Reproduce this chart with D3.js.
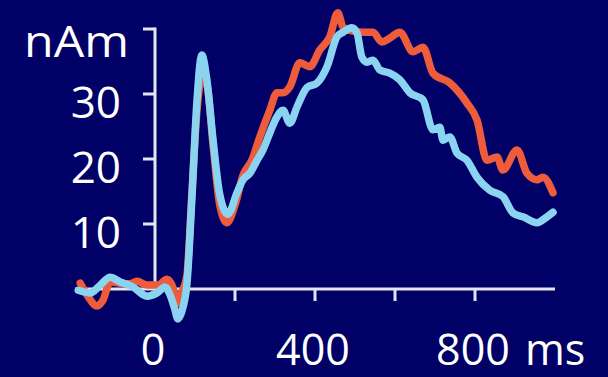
<!DOCTYPE html>
<html>
<head>
<meta charset="utf-8">
<script src="https://cdn.jsdelivr.net/npm/d3@7"></script>
<style>
  html, body { margin: 0; padding: 0; background: #000066; }
  svg { display: block; }
</style>
</head>
<body>
<div id="chart"></div>
<script>
// time in ms, amplitude in nAm
const blueTime = [-192, -162, -137, -112, -87, -55, -20, 5, 25, 37, 50, 57, 70, 80, 92, 105, 117, 130, 145, 162, 182,
  205, 220, 237, 255, 270, 287, 305, 320, 337, 355, 380, 405, 430, 455, 470, 492, 505, 517, 530, 545, 562, 587,
  612, 637, 670, 695, 712, 720, 737, 755, 780, 805, 837, 870, 895, 920, 955, 980, 995];
const blueValue = [-0.2, -0.6, 0.6, 1.8, 1.1, 0.3, -1.1, -0.6, 0.3, -0.8, -3.2, -4.6, -2.8, 0.9, 13.7, 29, 36, 32, 23, 14.5, 11.5,
  14.8, 16.8, 17.8, 19.8, 21.4, 24, 26.5, 27.5, 25.5, 28, 31, 31.7, 34.2, 38.8, 39.5, 40.2, 39.4, 35.7, 34.9, 35.2, 33.7, 33.2,
  32.2, 30.2, 29.1, 24.5, 24.9, 22.9, 23.4, 20.9, 19.8, 17.2, 15.2, 14.2, 11.7, 11.1, 10.2, 11.1, 11.8];

const redTime = [-187, -170, -145, -130, -112, -87, -62, -45, -20, 7, 30, 45, 55, 67, 80, 92, 105, 117, 130, 145, 162, 180,
  200, 220, 242, 262, 287, 305, 320, 337, 362, 387, 412, 437, 457, 470, 487, 520, 545, 567, 587,
  612, 645, 670, 695, 737, 780, 805, 830, 855, 870, 905, 930, 955, 970, 995];
const redValue = [0.9, -0.9, -2.6, -1.7, 1.1, 0.9, 0.8, 1.2, 0.6, 0.6, 1.5, 0.2, -2.2, -0.5, 2.2, 14.5, 27.5, 32.5, 31.4, 22.2, 12.9, 10.2,
  12.9, 17.5, 19.8, 23.4, 27.5, 30.2, 30.2, 31.1, 34.8, 34.2, 36.8, 38.8, 42.5, 40.3, 39.8, 39.5, 39.5, 38, 38.6,
  39.5, 36.5, 37.2, 33.2, 31.7, 28.6, 26, 19.8, 20.3, 18.3, 21.4, 17.8, 16.8, 17.2, 14.8];

const yTicks = [10, 20, 30, 40];
const yLabels = ["10", "20", "30", "nAm"];
const xTicks = [200, 400, 600, 800];
const xLabelValues = [0, 400, 800];
const xUnit = "ms";

const width = 608, height = 377;
const font = "'Open Sans', sans-serif";

const svg = d3.select("#chart")
  .append("svg")
  .attr("width", width)
  .attr("height", height);

svg.append("rect")
  .attr("width", width)
  .attr("height", height)
  .attr("fill", "#000066");

// slight softening like the original slide
svg.append("defs").append("filter")
  .attr("id", "soft")
  .append("feGaussianBlur")
  .attr("stdDeviation", 0.6);

const x = d3.scaleLinear().domain([-200, 1000]).range([75, 555]);
const y = d3.scaleLinear().domain([0, 40]).range([289, 29]);

const axisColor = "#e6e6f0";

// x axis line + ticks (downwards)
svg.append("line")
  .attr("x1", x(-200)).attr("x2", x(1000))
  .attr("y1", y(0)).attr("y2", y(0))
  .attr("stroke", axisColor).attr("stroke-width", 3);

svg.selectAll(".xtick")
  .data(xTicks)
  .enter()
  .append("line")
  .attr("class", "xtick")
  .attr("x1", d => x(d)).attr("x2", d => x(d))
  .attr("y1", y(0)).attr("y2", y(0) + 12)
  .attr("stroke", axisColor).attr("stroke-width", 3);

// y axis line + ticks (leftwards)
svg.append("line")
  .attr("x1", x(0)).attr("x2", x(0))
  .attr("y1", y(40) - 1.5).attr("y2", y(0))
  .attr("stroke", axisColor).attr("stroke-width", 3);

svg.selectAll(".ytick")
  .data(yTicks)
  .enter()
  .append("line")
  .attr("class", "ytick")
  .attr("x1", x(0) - 12).attr("x2", x(0))
  .attr("y1", d => y(d)).attr("y2", d => y(d))
  .attr("stroke", axisColor).attr("stroke-width", 3);

// lines
const line = d3.line()
  .x(d => x(d[0]))
  .y(d => y(d[1]))
  .curve(d3.curveMonotoneX);

svg.append("path")
  .datum(redTime.map((t, i) => [t, redValue[i]]))
  .attr("fill", "none")
  .attr("stroke", "#ee5b3b")
  .attr("stroke-width", 7.5)
  .attr("stroke-linejoin", "round")
  .attr("stroke-linecap", "round")
  .attr("filter", "url(#soft)")
  .attr("d", line);

svg.append("path")
  .datum(blueTime.map((t, i) => [t, blueValue[i]]))
  .attr("fill", "none")
  .attr("stroke", "#8ad4f2")
  .attr("stroke-width", 7.5)
  .attr("stroke-linejoin", "round")
  .attr("stroke-linecap", "round")
  .attr("filter", "url(#soft)")
  .attr("d", line);

// y labels
svg.selectAll(".ylabel")
  .data(yTicks)
  .enter()
  .append("text")
  .attr("class", "ylabel")
  .attr("x", (d, i) => i === 3 ? 129 : 121)
  .attr("y", (d, i) => y(d) + (i === 3 ? 28 : 24))
  .attr("text-anchor", "end")
  .attr("fill", "white")
  .style("font-family", font)
  .style("font-size", "44px")
  .each(function(d, i) {
    if (i === 3) d3.select(this).attr("textLength", 105).attr("lengthAdjust", "spacingAndGlyphs");
  })
  .text((d, i) => yLabels[i]);

// x labels
svg.selectAll(".xlabel")
  .data(xLabelValues)
  .enter()
  .append("text")
  .attr("class", "xlabel")
  .attr("x", d => x(d) - 2)
  .attr("y", 365)
  .attr("text-anchor", "middle")
  .attr("fill", "white")
  .style("font-family", font)
  .style("font-size", "43px")
  .text(d => d);

svg.append("text")
  .attr("x", x(800) + 50)
  .attr("y", 365)
  .attr("fill", "white")
  .style("font-family", font)
  .style("font-size", "43px")
  .text(xUnit);
</script>
</body>
</html>
